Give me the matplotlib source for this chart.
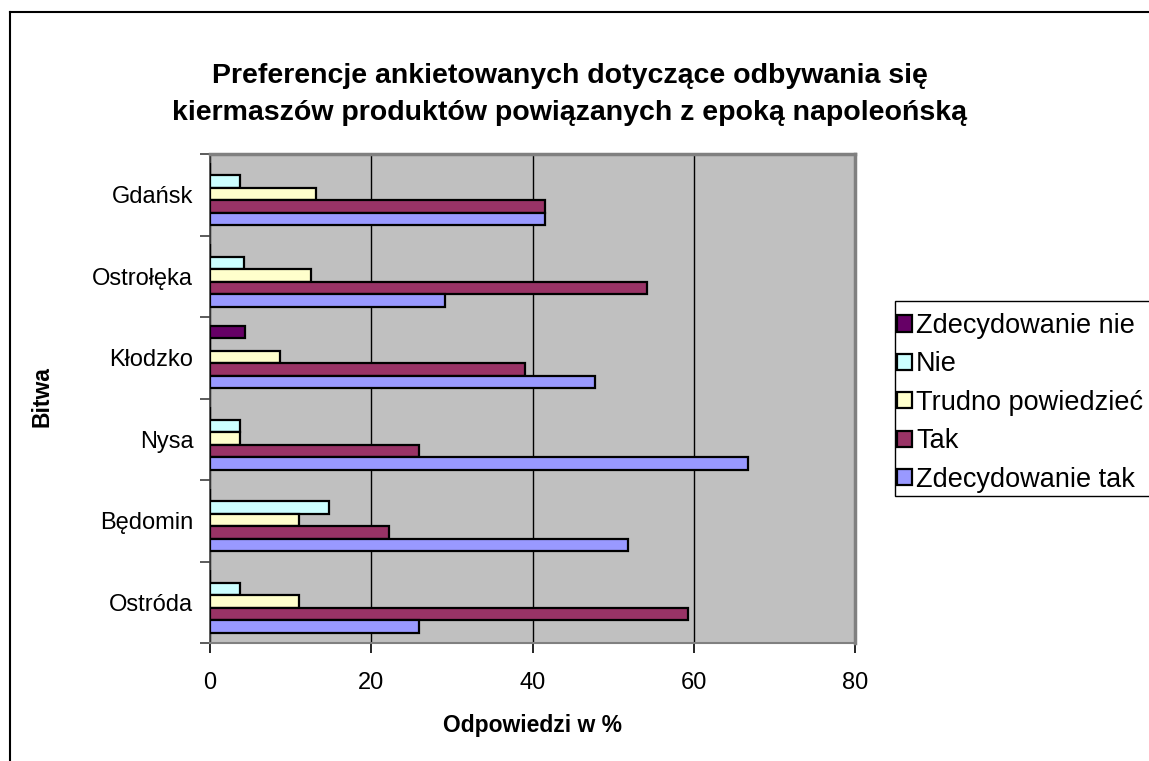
import matplotlib
matplotlib.use("Agg")
import matplotlib.pyplot as plt
import numpy as np
from matplotlib.lines import Line2D
from matplotlib.patches import Rectangle

categories = ["Ostróda", "Będomin", "Nysa", "Kłodzko", "Ostrołęka", "Gdańsk"]
series_names = ["Zdecydowanie nie", "Nie", "Trudno powiedzieć", "Tak", "Zdecydowanie tak"]
zdec_nie = [0.0, 0.0, 0.0, 4.3, 0.0, 0.0]
nie = [3.7, 14.8, 3.7, 0.0, 4.2, 3.7]
trudno = [11.1, 11.1, 3.7, 8.7, 12.5, 13.1]
tak = [59.3, 22.2, 25.9, 39.1, 54.2, 41.5]
zdec_tak = [25.9, 51.9, 66.7, 47.8, 29.2, 41.5]
colors = ["#660066", "#CCFFFF", "#FFFFCC", "#993366", "#9999FF"]
xticks = [0, 20, 40, 60, 80]

plt.rcParams['font.family'] = ['Liberation Sans', 'DejaVu Sans']

W, H = 1149, 761
fig = plt.figure(figsize=(W/100, H/100), dpi=100)
ax = fig.add_axes([210/W, 1-643/H, (855-210)/W, (643-154)/H])
ax.set_facecolor("#C0C0C0")

data = [zdec_nie, nie, trudno, tak, zdec_tak]
y = np.arange(len(categories))
h = 0.153
offsets = [2*h, h, 0, -h, -2*h]
for vals, col, off, name in zip(data, colors, offsets, series_names):
    ax.barh(y + off + 0.01, vals, height=h, color=col, edgecolor="black",
            linewidth=1.6, label=name, zorder=3)

ax.set_xlim(0, 80)
ax.set_ylim(-0.5, len(categories) - 0.5)
ax.set_xticks(xticks)
ax.set_xticklabels([str(t) for t in xticks], fontsize=17)
ax.xaxis.grid(True, color="black", linewidth=1.0, zorder=1)
ax.set_axisbelow(True)

ax.set_yticks(y)
ax.set_yticklabels(categories, fontsize=17)
ax.tick_params(axis='y', length=0, pad=12)
ax.set_yticks(np.arange(-0.5, len(categories)), minor=True)
ax.tick_params(axis='y', which='minor', length=7, width=1.2, color="#404040", direction='out')
ax.tick_params(axis='x', length=7, width=1.2, direction='out', pad=14)

for s in ["top", "right"]:
    ax.spines[s].set_color("#808080")
    ax.spines[s].set_linewidth(2.5)
ax.spines["left"].set_color("#404040")
ax.spines["left"].set_linewidth(1.2)
ax.spines["bottom"].set_color("#808080")
ax.spines["bottom"].set_linewidth(1.5)

ax.set_xlabel("Odpowiedzi w %", fontsize=16.5, fontweight="bold", labelpad=14)
fig.text(42/W, 1-397/H, "Bitwa", rotation=90, fontsize=16.5, fontweight="bold",
         ha="center", va="center")

fig.text(570/W, 1-76/H, "Preferencje ankietowanych dotyczące odbywania się",
         fontsize=20.5, fontweight="bold", ha="center", va="center")
fig.text(570/W, 1-113/H, "kiermaszów produktów powiązanych z epoką napoleońską",
         fontsize=20.5, fontweight="bold", ha="center", va="center")

# legend box (extends past the right edge as in the original)
fig.add_artist(Rectangle((895/W, 1-496/H), (1170-895)/W, (496-301)/H,
                         transform=fig.transFigure, facecolor="white",
                         edgecolor="black", linewidth=1.0, zorder=2))
handles, labels = ax.get_legend_handles_labels()
leg = fig.legend(handles, labels, loc="upper left",
                 bbox_to_anchor=(897/W, 1-313/H), fontsize=19.5,
                 frameon=False, handlelength=0.55, handleheight=0.55,
                 handletextpad=0.15, labelspacing=0.46, borderpad=0,
                 borderaxespad=0)
leg.set_zorder(3)

# outer chart frame
fig.add_artist(Line2D([10/W, 10/W], [0, 1-12/H], color="black", linewidth=1.5))
fig.add_artist(Line2D([10/W, 1], [1-12/H, 1-12/H], color="black", linewidth=1.5))

fig.savefig("out.png", dpi=100, facecolor="white")
